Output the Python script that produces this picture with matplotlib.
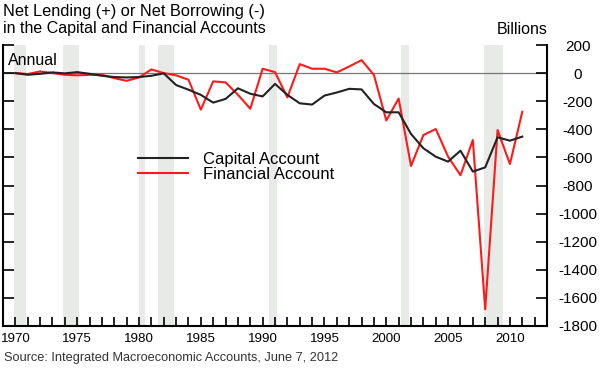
import numpy as np
import matplotlib
matplotlib.use("Agg")
import matplotlib.pyplot as plt
from matplotlib.ticker import MultipleLocator

plt.rcParams['font.family'] = ['Liberation Sans', 'DejaVu Sans']

### data (billions of dollars, annual)
years = list(range(1970, 2012))
capital = [0, -12, -5, 5, -2, 7, -5, -19, -28, -31,
           -28, -19, -2, -85, -118, -155, -210, -184, -108, -147,
           -166, -77, -155, -215, -224, -160, -138, -112, -116, -220,
           -279, -279, -433, -535, -595, -630, -552, -701, -671, -457,
           -481, -452]
financial = [0, -7, 12, 0, -12, -16, -12, -12, -36, -55,
             -31, 26, 0, -16, -47, -260, -59, -66, -154, -254,
             31, 7, -173, 64, 31, 31, 5, 47, 92, -13,
             -337, -181, -661, -441, -398, -595, -727, -476, -1681, -405,
             -647, -275]
recessions = [(1969.92, 1970.83), (1973.83, 1975.17), (1980.0, 1980.5),
              (1981.5, 1982.83), (1990.5, 1991.17), (2001.17, 2001.83),
              (2007.92, 2009.42)]
series_labels = ['Capital Account', 'Financial Account']
### END ###

fig = plt.figure(figsize=(6.0, 3.71), dpi=100)
ax = fig.add_axes([0.005, 0.1213, 0.9067, 0.7574])

for start, end in recessions:
    ax.axvspan(start, end, color='#e8eae8', lw=0, zorder=0)

ax.axhline(0, color='#777777', lw=0.9, zorder=1)
ax.plot(years, capital, color='#222222', lw=1.5, label=series_labels[0], zorder=3)
ax.plot(years, financial, color='#ff1a1a', lw=1.5, label=series_labels[1], zorder=2)

ax.set_xlim(1969, 2013)
ax.set_ylim(-1800, 200)

ax.xaxis.set_minor_locator(MultipleLocator(1))
ax.set_xticks(range(1970, 2011, 5))
ax.yaxis.set_major_locator(MultipleLocator(200))

ax.spines['top'].set_visible(False)
for side in ['left', 'right', 'bottom']:
    ax.spines[side].set_linewidth(1.5)

ax.tick_params(axis='x', which='both', direction='in', length=6.5, width=1.2,
               labelsize=9.6, pad=5)
ax.tick_params(axis='y', direction='in', length=8, width=1.2, left=True,
               right=True, labelleft=False, labelright=True, labelsize=11, pad=22)
ax.set_yticklabels([f"{int(v)}" for v in ax.get_yticks()])
for lab in ax.get_yticklabels():
    lab.set_horizontalalignment('center')

leg = ax.legend(loc='upper left', bbox_to_anchor=(0.235, 0.643), frameon=False,
                fontsize=12, handlelength=3.0, handletextpad=0.9,
                labelspacing=0.0, borderaxespad=0)

fig.text(0.005, 0.957, 'Net Lending (+) or Net Borrowing (-)', fontsize=11.8, va='baseline')
fig.text(0.005, 0.912, 'in the Capital and Financial Accounts', fontsize=11.5, va='baseline')
fig.text(0.912, 0.908, 'Billions', fontsize=11.5, va='baseline', ha='right')
ax.text(0.009, 0.93, 'Annual', transform=ax.transAxes, fontsize=11.5, va='baseline')
fig.text(0.007, 0.027, 'Source: Integrated Macroeconomic Accounts, June 7, 2012',
         fontsize=9.2, va='baseline', color='#333333')

plt.savefig('out.png', dpi=100)
